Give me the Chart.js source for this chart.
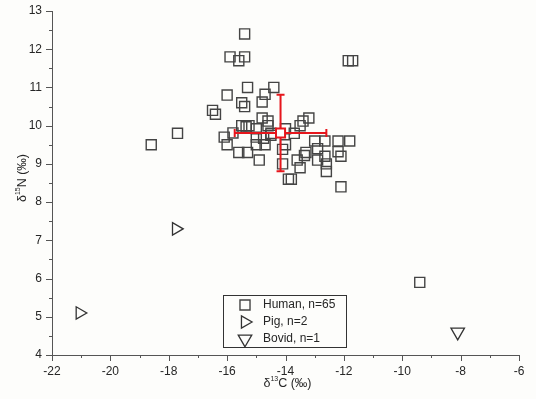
<!DOCTYPE html>
<html><head><meta charset="utf-8">
<script src="https://cdn.jsdelivr.net/npm/chart.js@4.4.1/dist/chart.umd.min.js"></script>
<style>html,body{margin:0;padding:0;background:#fdfdfb;}#wrap{width:536px;height:399px;}</style>
</head><body><div id="wrap"><canvas id="c" width="536" height="399"></canvas></div>
<script>
// ---- data ----
const humanX = [-15.4,-15.9,-15.4,-15.6,-11.85,-11.7,-15.3,-14.4,-16.0,-14.7,-15.5,-15.4,-14.8,-16.5,-16.4,-13.2,-13.4,-13.5,-14.8,-14.6,-14.6,-17.7,-18.6,-15.5,-15.25,-15.0,-15.8,-16.1,-16.0,-15.0,-15.0,-14.75,-14.5,-15.6,-15.3,-14.9,-14.0,-13.7,-14.0,-14.1,-14.1,-13.9,-13.8,-13.0,-12.65,-12.2,-11.8,-12.9,-13.3,-13.35,-13.6,-13.5,-12.9,-12.65,-12.6,-12.6,-12.2,-12.1,-12.1,-15.35,-14.7,-14.5,-9.4];
const humanY = [12.4,11.8,11.8,11.7,11.7,11.7,11.0,11.0,10.8,10.82,10.6,10.5,10.62,10.4,10.3,10.2,10.12,10.0,10.2,10.12,10.0,9.8,9.5,10.0,10.0,9.92,9.81,9.7,9.5,9.7,9.5,9.67,9.8,9.3,9.3,9.1,9.92,9.8,9.5,9.38,9.0,8.6,8.6,9.6,9.6,9.6,9.6,9.4,9.3,9.22,9.1,8.9,9.1,9.2,9.0,8.8,9.32,9.2,8.4,9.97,9.5,9.75,5.9];
const pigX = [-17.75,-21.05];
const pigY = [7.3,5.1];
const bovidX = [-8.1];
const bovidY = [4.6];
const meanX = [-14.17];
const meanY = [9.81];
const meanSdX = [1.57];
const meanSdY = [1.0];
const xTicks = [-22,-20,-18,-16,-14,-12,-10,-8,-6];
const yTicks = [4,5,6,7,8,9,10,11,12,13];
const legendLabels = ['Human, n=65','Pig, n=2','Bovid, n=1'];

const pts = (xs, ys) => xs.map((x,i)=>({x:x, y:ys[i]}));
const FONT = "'Liberation Sans', Arial, sans-serif";
const TXT = '#262626';
const RED = '#e6161c';

const bgPlugin = {
  id:'bg',
  beforeDraw(chart){
    const ctx = chart.ctx; ctx.save(); ctx.fillStyle='#fdfdfb';
    ctx.fillRect(0,0,chart.width,chart.height); ctx.restore();
  }
};

const errPlugin = {
  id:'err',
  afterDatasetDraw(chart, args){
    if (args.index !== 1) return;
    const ctx = chart.ctx, xs = chart.scales.x, ys = chart.scales.y;
    ctx.save(); ctx.strokeStyle = RED; ctx.lineWidth = 2;
    meanX.forEach((mx,i)=>{
      const my = meanY[i];
      const cx = xs.getPixelForValue(mx), cy = ys.getPixelForValue(my);
      const x1 = xs.getPixelForValue(mx-meanSdX[i]), x2 = xs.getPixelForValue(mx+meanSdX[i]);
      const y1 = ys.getPixelForValue(my+meanSdY[i]), y2 = ys.getPixelForValue(my-meanSdY[i]);
      const c = 4;
      ctx.beginPath();
      ctx.moveTo(x1,cy); ctx.lineTo(x2,cy);
      ctx.moveTo(x1,cy-c); ctx.lineTo(x1,cy+c);
      ctx.moveTo(x2,cy-c); ctx.lineTo(x2,cy+c);
      ctx.moveTo(cx,y1); ctx.lineTo(cx,y2);
      ctx.moveTo(cx-c,y1); ctx.lineTo(cx+c,y1);
      ctx.moveTo(cx-c,y2); ctx.lineTo(cx+c,y2);
      ctx.stroke();
    });
    ctx.restore();
  }
};

function drawSupText(ctx, parts, x, y, align){
  const big = '12.5px ' + FONT, small = '7px ' + FONT;
  let total = 0;
  parts.forEach(p=>{ ctx.font = p[1]?small:big; total += ctx.measureText(p[0]).width; });
  let cx = align==='center' ? x - total/2 : x;
  ctx.textBaseline = 'alphabetic'; ctx.textAlign = 'left';
  parts.forEach(p=>{
    ctx.font = p[1]?small:big;
    ctx.fillText(p[0], cx, p[1] ? y-6 : y);
    cx += ctx.measureText(p[0]).width;
  });
}

const decoPlugin = {
  id:'deco',
  afterDraw(chart){
    const ctx = chart.ctx, xs = chart.scales.x, ys = chart.scales.y;
    const ca = chart.chartArea;
    ctx.save();
    ctx.strokeStyle = '#555'; ctx.lineWidth = 1;
    ctx.beginPath();
    for (let v = -22; v <= -6; v += 1){
      const px = Math.round(xs.getPixelForValue(v)) + 0.5;
      const len = (v % 2 === 0) ? 6 : 3;
      ctx.moveTo(px, ca.bottom); ctx.lineTo(px, ca.bottom + len);
    }
    for (let v = 4; v <= 13; v += 0.5){
      const py = Math.round(ys.getPixelForValue(v)) + 0.5;
      const len = (Number.isInteger(v)) ? 6 : 3;
      ctx.moveTo(ca.left, py); ctx.lineTo(ca.left - len, py);
    }
    ctx.stroke();

    // axis titles
    ctx.fillStyle = TXT;
    drawSupText(ctx, [['δ',false],['13',true],['C (‰)',false]], (ca.left+ca.right)/2 + 2, 387, 'center');
    ctx.save();
    ctx.translate(26, 178);
    ctx.rotate(-Math.PI/2);
    drawSupText(ctx, [['δ',false],['15',true],['N (‰)',false]], 0, 0, 'center');
    ctx.restore();

    // legend
    const bx = 223.5, by = 295.5, bw = 123, bh = 52;
    ctx.strokeStyle = '#333'; ctx.lineWidth = 1;
    ctx.strokeRect(bx, by, bw, bh);
    const rows = [305, 322, 339];
    const styles = chart.data.datasets.slice(1);
    styles.forEach((ds,i)=>{
      const opts = {pointStyle: ds.pointStyle, rotation: ds.rotation||0, radius: ds.pointRadius, borderWidth: ds.borderWidth};
      ctx.strokeStyle = ds.borderColor; ctx.fillStyle = 'rgba(0,0,0,0)'; ctx.lineWidth = ds.borderWidth;
      Chart.helpers.drawPoint(ctx, opts, 245, rows[i]);
      ctx.fillStyle = TXT;
      ctx.font = '12px ' + FONT; ctx.textBaseline = 'middle'; ctx.textAlign = 'left';
      ctx.fillText(legendLabels[i], 263, rows[i]);
    });
    ctx.restore();
  }
};

new Chart(document.getElementById('c'), {
  type:'scatter',
  data:{
    datasets:[
      {label:'Mean', data: pts(meanX, meanY), pointStyle:'rect', pointRadius:6.4, borderWidth:2, borderColor:RED, backgroundColor:'#ffffff'},
      {label:legendLabels[0], data: pts(humanX, humanY), pointStyle:'rect', pointRadius:7.1, borderWidth:1.4, borderColor:'#444', backgroundColor:'rgba(0,0,0,0)'},
      {label:legendLabels[1], data: pts(pigX, pigY), pointStyle:'triangle', rotation:90, pointRadius:7.1, borderWidth:1.3, borderColor:'#333', backgroundColor:'rgba(0,0,0,0)'},
      {label:legendLabels[2], data: pts(bovidX, bovidY), pointStyle:'triangle', rotation:180, pointRadius:7.8, borderWidth:1.3, borderColor:'#333', backgroundColor:'rgba(0,0,0,0)'}
    ]
  },
  options:{
    responsive:false, animation:false, devicePixelRatio:1,
    layout:{padding:{top:11, right:17, left:0, bottom:0}},
    plugins:{legend:{display:false}, tooltip:{enabled:false}},
    elements:{point:{hoverRadius:7}},
    scales:{
      x:{type:'linear', min:-22, max:-6,
        grid:{display:false, drawTicks:false, tickLength:0},
        border:{display:true, color:'#555', width:1},
        afterBuildTicks(s){ s.ticks = xTicks.map(v=>({value:v})); },
        afterFit(s){ s.height = 44; s.paddingLeft = 0; s.paddingRight = 0; },
        ticks:{color:TXT, font:{family:FONT, size:12}, padding:9, maxRotation:0, autoSkip:false}
      },
      y:{type:'linear', min:4, max:13,
        grid:{display:false, drawTicks:false, tickLength:0},
        border:{display:true, color:'#555', width:1},
        afterBuildTicks(s){ s.ticks = yTicks.map(v=>({value:v})); },
        afterFit(s){ s.width = 52; s.paddingTop = 0; s.paddingBottom = 0; },
        ticks:{color:TXT, font:{family:FONT, size:12}, padding:10, autoSkip:false}
      }
    }
  },
  plugins:[bgPlugin, errPlugin, decoPlugin]
});
</script></body></html>
